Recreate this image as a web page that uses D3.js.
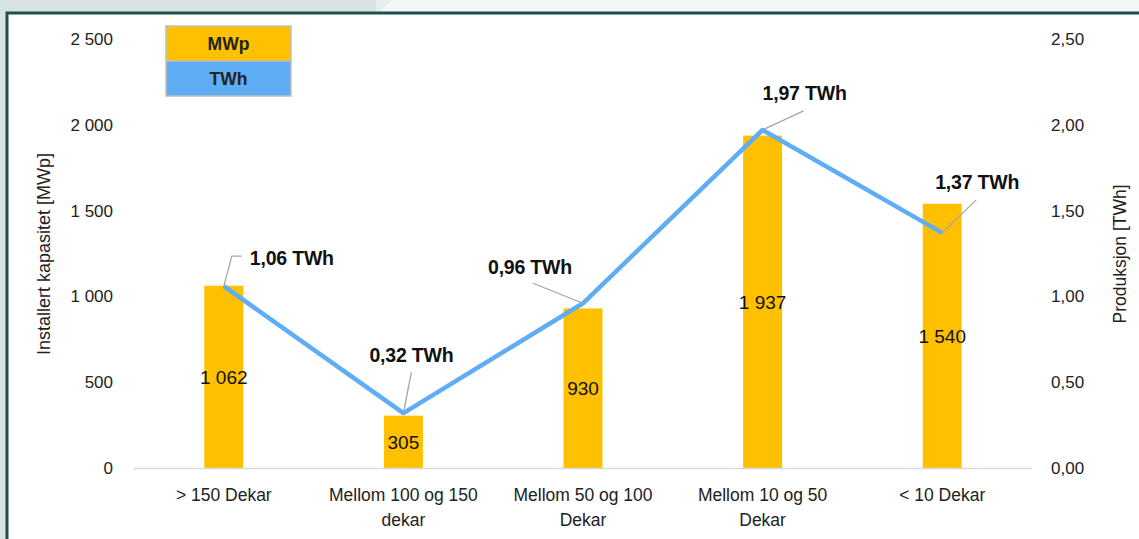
<!DOCTYPE html>
<html><head><meta charset="utf-8">
<script src="https://cdn.jsdelivr.net/npm/d3@7"></script>
<style>body{margin:0;background:#d6e3e2;overflow:hidden}svg{display:block}</style>
</head><body>
<svg id="c" width="1139" height="539"></svg>
<script>
const categories = [["> 150 Dekar"], ["Mellom 100 og 150", "dekar"], ["Mellom 50 og 100", "Dekar"], ["Mellom 10 og 50", "Dekar"], ["< 10 Dekar"]];
const mwp = [1062, 305, 930, 1937, 1540];
const twh = [1.06, 0.32, 0.96, 1.97, 1.37];
const leftTicks = [0, 500, 1000, 1500, 2000, 2500];
const rightTicks = [0, 0.5, 1.0, 1.5, 2.0, 2.5];
const seriesNames = ["MWp", "TWh"];

const svg = d3.select("#c");
const W = 1139, H = 539;
const font = "'Liberation Sans', Arial, sans-serif";
const orange = "#ffc000", blue = "#5eadf5";

// background
svg.append("rect").attr("width", W).attr("height", H).attr("fill", "#d6e3e2");
svg.append("path").attr("d", "M376,0 L1139,0 L1139,12 L376,12 Z").attr("fill", "#f3f7f7");
svg.append("path").attr("d", "M376,0 L392,0 L380,12 L376,12 Z").attr("fill", "#e6eeee");
// frame
svg.append("rect").attr("x", 7).attr("y", 13).attr("width", W + 10).attr("height", H + 10)
  .attr("fill", "#fff").attr("stroke", "#1f4f4d").attr("stroke-width", 3);

const x0 = 134, x1 = 1032, yBase = 468, yTop = 39;
const x = d3.scaleBand().domain(d3.range(categories.length)).range([x0, x1]);
const yL = d3.scaleLinear().domain([0, 2500]).range([yBase, yTop]);
const yR = d3.scaleLinear().domain([0, 2.5]).range([yBase, yTop]);
const fmtL = d => d3.format(",")(d).replace(/,/g, " ");
const fmtR = d => d3.format(".2f")(d).replace(".", ",");

// left axis
const gL = svg.append("g").attr("transform", `translate(${x0},0)`)
  .call(d3.axisLeft(yL).tickValues(leftTicks).tickSize(0).tickPadding(21).tickFormat(fmtL));
gL.select(".domain").remove();
gL.selectAll("text").attr("font-family", font).attr("font-size", 17).attr("fill", "#222");

// right axis
const gR = svg.append("g").attr("transform", `translate(${x1},0)`)
  .call(d3.axisRight(yR).tickValues(rightTicks).tickSize(0).tickPadding(19).tickFormat(fmtR));
gR.select(".domain").remove();
gR.selectAll("text").attr("font-family", font).attr("font-size", 17).attr("fill", "#222");

// bars
const bw = 39;
svg.selectAll("rect.bar").data(mwp).join("rect").attr("class", "bar")
  .attr("x", (d, i) => x(i) + x.bandwidth() / 2 - bw / 2).attr("width", bw)
  .attr("y", d => yL(d)).attr("height", d => yBase - yL(d)).attr("fill", orange);

// x axis line
svg.append("line").attr("x1", x0).attr("x2", x1).attr("y1", yBase + 0.5).attr("y2", yBase + 0.5)
  .attr("stroke", "#d9d9d9").attr("stroke-width", 1.5);

// bar labels
svg.selectAll("text.bl").data(mwp).join("text").attr("class", "bl")
  .attr("x", (d, i) => x(i) + x.bandwidth() / 2)
  .attr("y", d => (yL(d) + yBase) / 2 + 7)
  .attr("text-anchor", "middle").attr("font-family", font).attr("font-size", 19).attr("fill", "#111")
  .text(fmtL);

// category labels
const cl = svg.selectAll("text.cl").data(categories).join("text").attr("class", "cl")
  .attr("x", (d, i) => x(i) + x.bandwidth() / 2).attr("y", 501)
  .attr("text-anchor", "middle").attr("font-family", font).attr("font-size", 17.5).attr("fill", "#222");
cl.selectAll("tspan").data(d => d).join("tspan")
  .attr("x", function () { return this.parentNode.getAttribute("x"); })
  .attr("dy", (d, i) => i === 0 ? 0 : 25).text(d => d);

// line
const cx = i => x(i) + x.bandwidth() / 2;
svg.append("path").datum(twh)
  .attr("d", d3.line().x((d, i) => cx(i)).y(d => yR(d)))
  .attr("fill", "none").attr("stroke", blue).attr("stroke-width", 4.5).attr("stroke-linejoin", "round");

// data labels for line (offsets from point)
const lab = [
  {tx: 68, ty: -21, lead: [[0, 0], [8, -30], [18, -30]]},
  {tx: 8, ty: -51, lead: [[0, 0], [8, -41]]},
  {tx: -53, ty: -29, lead: [[0, 0], [-50, -20]]},
  {tx: 42, ty: -30, lead: [[0, 0], [41, -19]]},
  {tx: 35, ty: -44, lead: [[0, 0], [34, -33]]}
];
twh.forEach((v, i) => {
  const px = cx(i), py = yR(v), L = lab[i];
  svg.append("path").attr("d", d3.line()(L.lead.map(p => [px + p[0], py + p[1]])))
    .attr("fill", "none").attr("stroke", "#a6a6a6").attr("stroke-width", 1.3);
  svg.append("text").attr("x", px + L.tx).attr("y", py + L.ty)
    .attr("text-anchor", "middle").attr("font-family", font).attr("font-weight", "bold")
    .attr("font-size", 19.5).attr("letter-spacing", -0.2).attr("fill", "#111")
    .text(fmtR(v) + " TWh");
});

// axis titles
svg.append("text").attr("transform", "translate(50,254) rotate(-90)").attr("text-anchor", "middle")
  .attr("font-family", font).attr("font-size", 18).attr("fill", "#222").text("Installert kapasitet [MWp]");
svg.append("text").attr("transform", "translate(1126,254) rotate(-90)").attr("text-anchor", "middle")
  .attr("font-family", font).attr("font-size", 17.5).attr("fill", "#222").text("Produksjon [TWh]");

// legend
const lg = svg.append("g");
[orange, blue].forEach((c, i) => {
  lg.append("rect").attr("x", 166).attr("y", 26 + i * 35).attr("width", 125).attr("height", 35).attr("fill", c);
  lg.append("text").attr("x", 228.5).attr("y", 26 + i * 35 + 24).attr("text-anchor", "middle")
    .attr("font-family", font).attr("font-weight", "bold").attr("font-size", 17.5).attr("fill", "#222")
    .text(seriesNames[i]);
});
lg.append("rect").attr("x", 166).attr("y", 26).attr("width", 125).attr("height", 70)
  .attr("fill", "none").attr("stroke", "#bfbfbf").attr("stroke-width", 1.5);
lg.append("line").attr("x1", 166).attr("x2", 291).attr("y1", 61).attr("y2", 61).attr("stroke", "#bfbfbf").attr("stroke-width", 1.5);
</script>
</body></html>
